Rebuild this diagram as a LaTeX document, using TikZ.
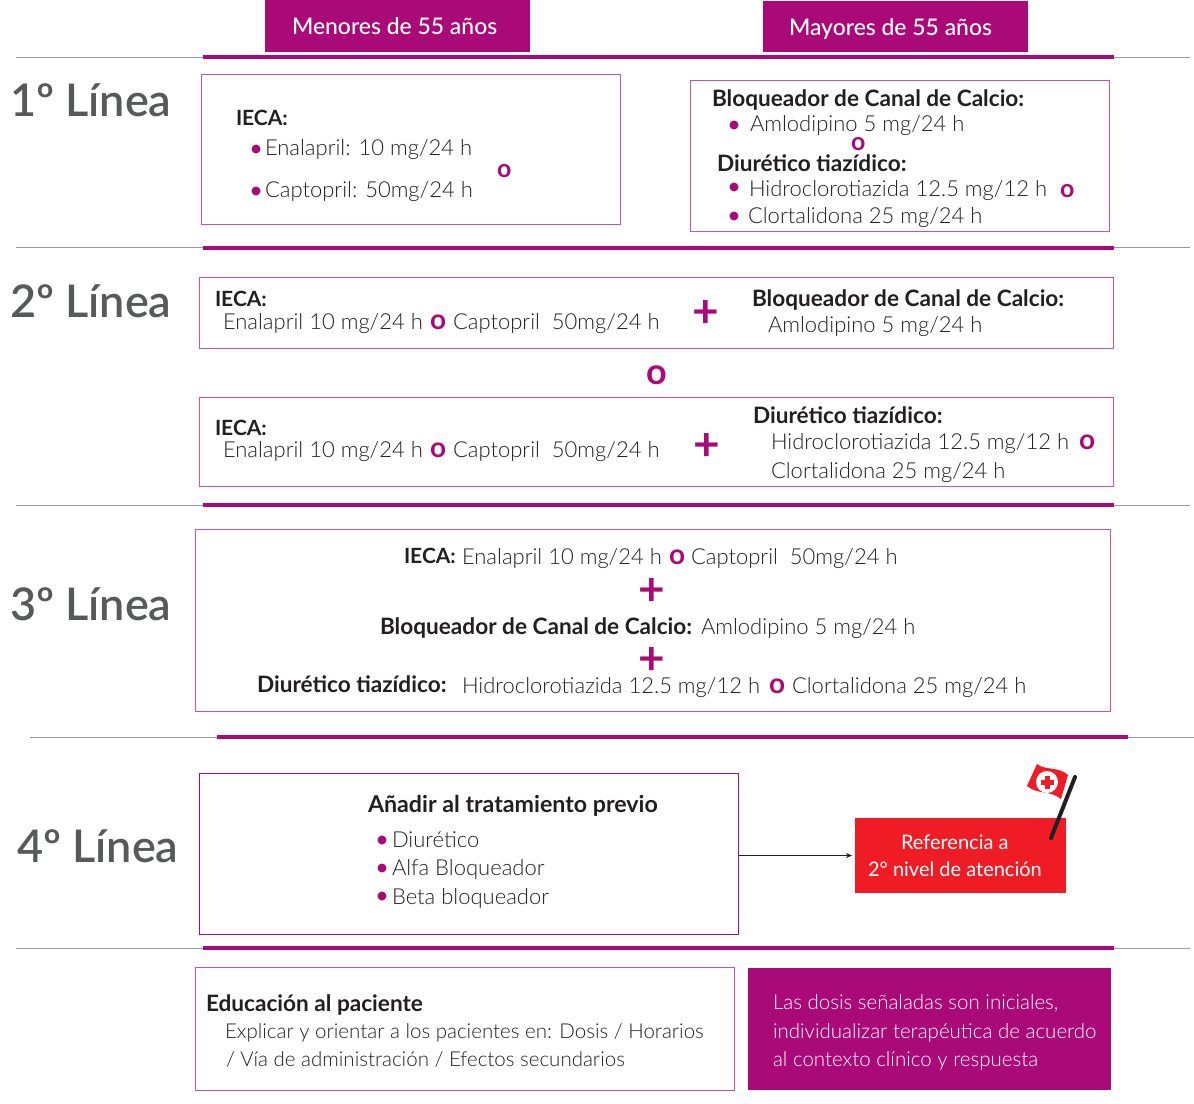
\documentclass[tikz,border=0pt]{standalone}
\usepackage{fontspec}
\setmainfont{Lato}
\newfontfamily\lt{Lato Light}
\newfontfamily\md{Lato Medium}
\newfontfamily\semib{Lato Semibold}
\usetikzlibrary{arrows.meta}
\definecolor{mag}{HTML}{A90A78}
\definecolor{boxl}{HTML}{CF4FA5}
\definecolor{gr}{HTML}{999999}
\definecolor{ttl}{HTML}{58595B}
\definecolor{ink}{HTML}{231F20}
\definecolor{redb}{HTML}{EF1C25}
\tikzset{x=1pt,y=-1pt,
 every node/.style={inner sep=0pt,outer sep=0pt,anchor=base west},
 t/.style={font=\fontsize{22}{22}\selectfont\lt,text=ink},
 tf/.style={font=\fontsize{20.5}{22}\selectfont\lt,text=ink},
 b/.style={font=\fontsize{22.6}{22}\selectfont\bfseries,text=ink},
 iec/.style={font=\fontsize{21}{22}\selectfont\bfseries,text=ink},
 bl/.style={font=\fontsize{23.2}{22}\selectfont\bfseries,text=ink},
 o/.style={font=\fontsize{28}{22}\selectfont\bfseries,text=mag},
 os/.style={font=\fontsize{25}{22}\selectfont\bfseries,text=mag},
 oo/.style={font=\fontsize{36}{31}\selectfont\bfseries,text=mag},
 plus/.style={font=\fontsize{46}{40}\selectfont\bfseries,text=mag,anchor=center},
 ttl/.style={font=\fontsize{45}{45}\selectfont\semib,text=ttl},
 wh/.style={font=\fontsize{22.9}{22}\selectfont\md,text=white},
 whl/.style={font=\fontsize{20.5}{22}\selectfont\lt,text=white},
 box/.style={draw=boxl,line width=1pt},
 dot/.style={circle,fill=mag,minimum size=9pt,anchor=center},
 gl/.style={draw=gr,line width=1pt},
 ml/.style={draw=mag,line width=4pt}}
\begin{document}
\begin{tikzpicture}
\useasboundingbox (0,0) rectangle (1194,1103);
% rules
\foreach \i/\y in {a/57,b/247.5,c/505,d/948}{
 \coordinate (g\i1) at (16,\y); \coordinate (g\i2) at (1190,\y);
 \coordinate (m\i1) at (203,\y); \coordinate (m\i2) at (1114,\y);
 \draw[gl] (g\i1)--(g\i2); \draw[ml] (m\i1)--(m\i2);}
\coordinate (ge1) at (30,737); \coordinate (ge2) at (1194,737);
\coordinate (me1) at (217,737); \coordinate (me2) at (1128,737);
\draw[gl] (ge1)--(ge2); \draw[ml] (me1)--(me2);
% headers
\fill[mag] (265,0) rectangle (530,52);
\fill[mag] (763,1) rectangle (1028,52);
\node[wh] (h1) at (292,34) {Menores de 55 años};
\node[wh] (h2) at (789,35) {Mayores de 55 años};
% titles
\node[ttl] (l1) at (10,116) {1º Línea};
\node[ttl] (l2) at (10,317) {2º Línea};
\node[ttl] (l3) at (10,620) {3º Línea};
\node[ttl] (l4) at (17,862) {4º Línea};
% boxes
\draw[box] (201.5,74.5) rectangle (620.5,224.5);
\draw[box] (690.5,80.5) rectangle (1109.5,231);
\draw[box] (199.5,277.5) rectangle (1113.5,348.5);
\draw[box] (199.5,397.5) rectangle (1113.5,486);
\draw[box] (195.5,529.5) rectangle (1110,711.5);
\draw[box] (195,967) rectangle (734,1090.5);
\node[draw=mag,line width=1pt,minimum width=539pt,minimum height=161pt,anchor=north west] (b6) at (199.5,773.5) {};
% 1st line left
\node[iec] at (236,125) {IECA:};
\node[dot] at (256,149) {}; \node[t] at (265,155) {Enalapril: 10 mg/24 h};
\node[dot] at (256,191) {}; \node[t] at (265,197) {Captopril: 50mg/24 h};
\node[os] at (497,177) {o};
% 1st line right
\node[b] at (712,106) {Bloqueador de Canal de Calcio:};
\node[dot] at (734,125) {}; \node[t] at (750,131) {Amlodipino 5 mg/24 h};
\node[os] at (851,150) {o};
\node[b] at (717,171) {Diurético tiazídico:};
\node[dot] at (734,187) {}; \node[t] at (749,196) {Hidroclorotiazida 12.5 mg/12 h};
\node[os] at (1060,197) {o};
\node[dot] at (734,216) {}; \node[t] at (748,223) {Clortalidona 25 mg/24 h};
% 2nd line
\node[iec] at (215,306) {IECA:};
\node[t] at (223,329) {Enalapril 10 mg/24 h};
\node[o] at (430,329) {o};
\node[t] at (453,329) {Captopril\ \ 50mg/24 h};
\node[plus] at (706,314) {+};
\node[b] at (752,306) {Bloqueador de Canal de Calcio:};
\node[t] at (768,332) {Amlodipino 5 mg/24 h};
\node[oo] at (646,384) {o};
\node[iec] at (215,435) {IECA:};
\node[t] at (223,457) {Enalapril 10 mg/24 h};
\node[o] at (430,457) {o};
\node[t] at (453,457) {Captopril\ \ 50mg/24 h};
\node[plus] at (707,447) {+};
\node[b] at (753,423) {Diurético tiazídico:};
\node[t] at (771,449) {Hidroclorotiazida 12.5 mg/12 h};
\node[o] at (1079,449) {o};
\node[t] at (771,478) {Clortalidona 25 mg/24 h};
% 3rd line
\node[iec] at (404,563) {IECA:};
\node[t] at (462,564) {Enalapril 10 mg/24 h};
\node[o] at (669,564) {o};
\node[t] at (691,564) {Captopril\ \ 50mg/24 h};
\node[plus] at (652,592) {+};
\node[b] at (380,634) {Bloqueador de Canal de Calcio:};
\node[t] at (701,634) {Amlodipino 5 mg/24 h};
\node[plus] at (652,661) {+};
\node[b] at (257,692) {Diurético tiazídico:};
\node[t] at (462,693) {Hidroclorotiazida 12.5 mg/12 h};
\node[o] at (769,693) {o};
\node[t] at (792,693) {Clortalidona 25 mg/24 h};
% 4th line
\node[bl] at (368,812) {Añadir al tratamiento previo};
\node[dot] at (382,840) {}; \node[t] at (392,847) {Diurético};
\node[dot] at (382,868) {}; \node[t] at (392,875) {Alfa Bloqueador};
\node[dot] at (382,896) {}; \node[t] at (392,904) {Beta bloqueador};
% referral
\node[fill=redb,minimum width=211pt,minimum height=75pt,anchor=north west] (red) at (855,818) {};
\node[wh,font=\fontsize{20}{20}\selectfont] at (901,849) {Referencia a};
\node[wh,font=\fontsize{20}{20}\selectfont] at (868,876) {2° nivel de atención};
\draw[-{Stealth[length=6pt,width=5pt]},ink,line width=.7pt,shorten >=3pt] (b6.east|-red.west) -- (red.west);
% flag
\fill[redb] (1037,764) .. controls (1046,771) and (1058,766) .. (1068,775) -- (1061,799) .. controls (1050,790) and (1038,795) .. (1027,786) -- cycle;
\fill[white] (1047,782) circle (11);
\fill[redb] (1040.5,779.5) rectangle (1053.5,784.5);
\fill[redb] (1044.5,775.5) rectangle (1049.5,788.5);
\draw[ink,line width=4pt,line cap=round] (1075,777) -- (1051,838);
% footer
\node[b] at (206,1011) {Educación al paciente};
\node[tf] at (225,1038) {Explicar y orientar a los pacientes en: Dosis / Horarios};
\node[tf] at (226,1066) {/ Vía de administración / Efectos secundarios};
\fill[mag] (748,968) rectangle (1111,1090);
\node[whl] at (773,1009) {Las dosis señaladas son iniciales,};
\node[whl] at (773,1038) {individualizar terapéutica de acuerdo};
\node[whl] at (773,1066) {al contexto clínico y respuesta};
\end{tikzpicture}
\end{document}
